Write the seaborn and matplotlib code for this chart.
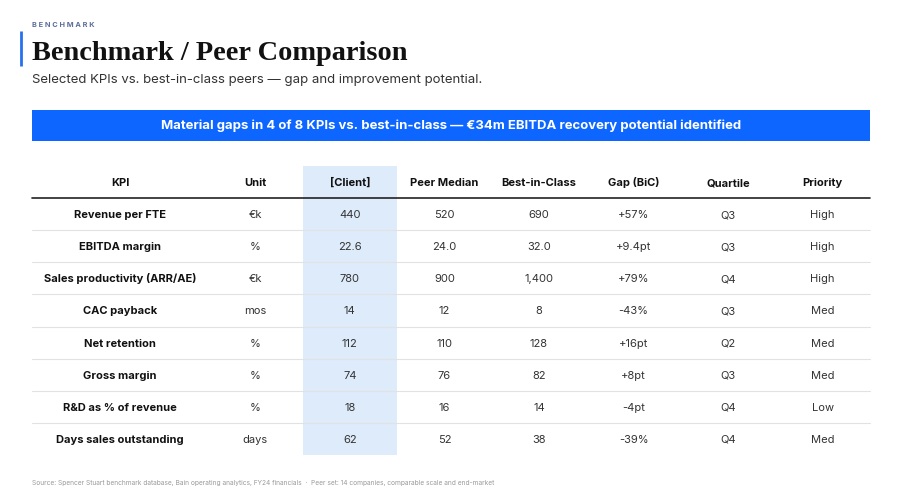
import numpy as np
import pandas as pd
import seaborn as sns
from matplotlib import pyplot as plt
from matplotlib.colors import ListedColormap

# table content
kpis = ["Revenue per FTE", "EBITDA margin", "Sales productivity (ARR/AE)", "CAC payback",
        "Net retention", "Gross margin", "R&D as % of revenue", "Days sales outstanding"]
units = ["€k", "%", "€k", "mos", "%", "%", "%", "days"]
decimals = [0, 1, 0, 0, 0, 0, 0, 0]
client = [440, 22.6, 780, 14, 112, 74, 18, 62]
peer_median = [520, 24.0, 900, 12, 110, 76, 16, 52]
best_in_class = [690, 32.0, 1400, 8, 128, 82, 14, 38]
gap_bic = ["+57%", "+9.4pt", "+79%", "-43%", "+16pt", "+8pt", "-4pt", "-39%"]
quartile = ["Q3", "Q3", "Q4", "Q3", "Q2", "Q3", "Q4", "Q4"]
priority = ["High", "High", "High", "Med", "Med", "Med", "Low", "Med"]
columns = ["Unit", "[Client]", "Peer Median", "Best-in-Class", "Gap (BiC)", "Quartile", "Priority"]

W, H = 900, 504
LEFT, RIGHT = 32, 870
KPI_RIGHT = 208
TABLE_TOP, TABLE_BOTTOM = 166, 455
BASE_SHIFT = 4  # px from row centre down to text baseline

BLUE = "#0d66ff"
HILITE = "#deebfb"


def fmt(v, d):
    return f"{v:,.{d}f}"


df = pd.DataFrame({
    "Unit": units,
    "[Client]": [fmt(v, d) for v, d in zip(client, decimals)],
    "Peer Median": [fmt(v, d) for v, d in zip(peer_median, decimals)],
    "Best-in-Class": [fmt(v, d) for v, d in zip(best_in_class, decimals)],
    "Gap (BiC)": gap_bic,
    "Quartile": quartile,
    "Priority": priority,
}, index=kpis)

annot = np.vstack([np.array(columns, dtype=object), df.values.astype(object)])
flags = np.zeros(annot.shape)
flags[:, columns.index("[Client]")] = 1

sns.set_theme(style="white")
plt.rcParams["font.family"] = ["Inter", "DejaVu Sans"]

fig = plt.figure(figsize=(W / 100, H / 100), dpi=100)
fig.patch.set_facecolor("white")

row_h = (TABLE_BOTTOM - TABLE_TOP) / (len(kpis) + 1)

# numeric part of the table as a heatmap (header row + 8 KPI rows)
hax = fig.add_axes([KPI_RIGHT / W, 1 - TABLE_BOTTOM / H,
                    (RIGHT - KPI_RIGHT) / W, (TABLE_BOTTOM - TABLE_TOP) / H])
sns.heatmap(flags, ax=hax, cmap=ListedColormap([(1, 1, 1, 0), HILITE]), vmin=0, vmax=1,
            cbar=False, annot=annot, fmt="", xticklabels=False, yticklabels=False,
            annot_kws={"fontsize": 8, "color": "#333333"})
# put every cell text on a common baseline
for t in hax.texts:
    x, y = t.get_position()
    t.set_position((x, y + BASE_SHIFT / row_h))
    t.set_va("baseline")
for t in hax.texts[:len(columns)]:
    t.set_fontweight("bold")
    t.set_color("#111111")
hax.axis("off")

# overlay in pixel coordinates for text and rules
ax = fig.add_axes([0, 0, 1, 1])
ax.set_xlim(0, W)
ax.set_ylim(H, 0)
ax.axis("off")
ax.patch.set_visible(False)

kpi_x = (LEFT + KPI_RIGHT) / 2
ax.text(kpi_x, TABLE_TOP + row_h / 2 + BASE_SHIFT, "KPI", ha="center", va="baseline",
        fontsize=8, fontweight="bold", color="#111111")
for i, name in enumerate(kpis):
    yc = TABLE_TOP + row_h * (i + 1.5)
    ax.text(kpi_x, yc + BASE_SHIFT, name, ha="center", va="baseline", fontsize=8,
            fontweight="bold", color="#111111")
ax.plot([LEFT, RIGHT], [TABLE_TOP + row_h] * 2, color="#222222", lw=1.2)
for i in range(1, len(kpis)):
    yl = TABLE_TOP + row_h * (i + 1)
    ax.plot([LEFT, RIGHT], [yl, yl], color="#e2e2e2", lw=0.8)

# header block
ax.plot([21, 21], [31, 66], color="#2a6ff0", lw=2, solid_capstyle="butt")
ax.text(LEFT, 27, "B E N C H M A R K", fontsize=5.3, fontweight="bold",
        color="#5d6e9c", va="baseline")
ax.text(LEFT, 60, "Benchmark / Peer Comparison", fontsize=20.4, fontweight="bold",
        family="Liberation Serif", color="#111111", va="baseline")
ax.text(LEFT, 83, "Selected KPIs vs. best-in-class peers \u2014 gap and improvement potential.",
        fontsize=9.5, color="#333333", va="baseline")

# banner
ax.add_patch(plt.Rectangle((LEFT, 110), RIGHT - LEFT, 31, color=BLUE, lw=0))
ax.text((LEFT + RIGHT) / 2, 129.5,
        "Material gaps in 4 of 8 KPIs vs. best-in-class \u2014 \u20ac34m EBITDA recovery potential identified",
        ha="center", va="baseline", fontsize=9.45, fontweight="bold", color="white")

# footer
ax.text(LEFT, 484.5,
        "Source: Spencer Stuart benchmark database, Bain operating analytics, FY24 financials  \u00b7  "
        "Peer set: 14 companies, comparable scale and end-market",
        fontsize=4.75, color="#9a9a9a", va="baseline")

fig.savefig("out.png", dpi=100)
